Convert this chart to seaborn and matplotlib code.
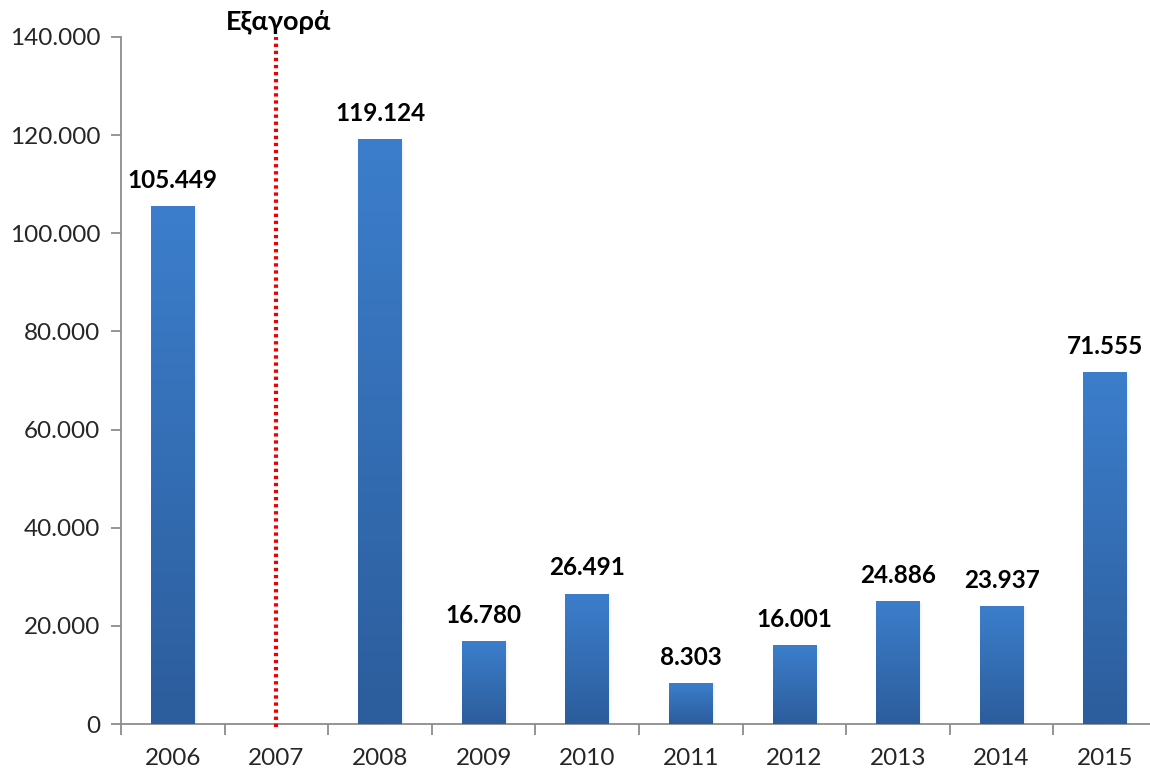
import numpy as np
import pandas as pd
import matplotlib
matplotlib.use("Agg")
import matplotlib.pyplot as plt
from matplotlib.colors import LinearSegmentedColormap
from matplotlib.ticker import FixedLocator, FuncFormatter
import seaborn as sns

# Yearly values (2007 has no value)
years = ["2006", "2007", "2008", "2009", "2010", "2011", "2012", "2013", "2014", "2015"]
values = [105449, np.nan, 119124, 16780, 26491, 8303, 16001, 24886, 23937, 71555]
y_ticks = [0, 20000, 40000, 60000, 80000, 100000, 120000, 140000]
event_year = "2007"
event_label = "Εξαγορά"

sns.set_theme(style="white")
plt.rcParams["font.family"] = ["Lato", "DejaVu Sans"]


def greek_thousands(v):
    return f"{int(round(v)):,}".replace(",", ".")


df = pd.DataFrame({"year": years, "value": values})

fig = plt.figure(figsize=(11.5, 7.69), dpi=100)
ax = fig.add_axes([0.1052, 0.0585, 0.9009, 0.8934])

sns.barplot(data=df, x="year", y="value", order=years, color="#3a78c4",
            width=0.42, ax=ax, zorder=2, saturation=1)

# vertical gradient fill on each bar, with a soft shadow on the right
grad_cmap = LinearSegmentedColormap.from_list("bar_grad", ["#2c5d9c", "#3c7ecc"])
gradient = np.linspace(0, 1, 256).reshape(-1, 1)
for patch in ax.patches:
    h = patch.get_height()
    if not np.isfinite(h) or h <= 0:
        continue
    x0 = patch.get_x()
    w = patch.get_width()
    for k, a in enumerate([0.10, 0.06, 0.03]):
        ax.add_patch(plt.Rectangle((x0 + w + k * 0.012, 0), 0.012, h * 0.995,
                                   color="#808080", alpha=a, lw=0, zorder=1.5))
    ax.imshow(gradient, extent=[x0, x0 + w, 0, h], origin="lower",
              aspect="auto", cmap=grad_cmap, zorder=3, interpolation="bilinear")
    patch.set_visible(False)

ax.set_xlim(-0.5, len(years) - 0.5)
ax.set_ylim(0, 140000)

# value labels
for i, v in enumerate(values):
    if np.isfinite(v):
        ax.text(i, v + 3000, greek_thousands(v), ha="center", va="bottom",
                fontsize=17.5, fontweight="bold", color="black", zorder=5)

# event marker
ev = years.index(event_year)
ax.plot([ev, ev], [-700, 140000], color="#ee0000", lw=3, linestyle=(0, (0.8, 0.9)),
        zorder=4, clip_on=False, solid_capstyle="butt", dash_capstyle="butt")
ax.text(ev + 0.02, 140700, event_label, ha="center", va="bottom", fontsize=19.5,
        fontweight="bold", color="black")

# axes styling
for side in ["top", "right"]:
    ax.spines[side].set_visible(False)
for side in ["left", "bottom"]:
    ax.spines[side].set_color("#8c8c8c")
    ax.spines[side].set_linewidth(1.3)

ax.yaxis.set_major_locator(FixedLocator(y_ticks))
ax.yaxis.set_major_formatter(FuncFormatter(lambda v, p: greek_thousands(v)))
ax.tick_params(axis="y", which="major", left=True, length=7, width=1.3,
               color="#8c8c8c", labelsize=17.5, pad=8)
ax.tick_params(axis="x", which="major", bottom=False, labelsize=17.5, pad=11)
ax.set_xticks(np.arange(-0.5, len(years)), minor=True)
ax.tick_params(axis="x", which="minor", bottom=True, length=8, width=1.3,
               color="#8c8c8c")
ax.set_xlabel("")
ax.set_ylabel("")
ax.grid(False)

fig.savefig("out.png", dpi=100)
